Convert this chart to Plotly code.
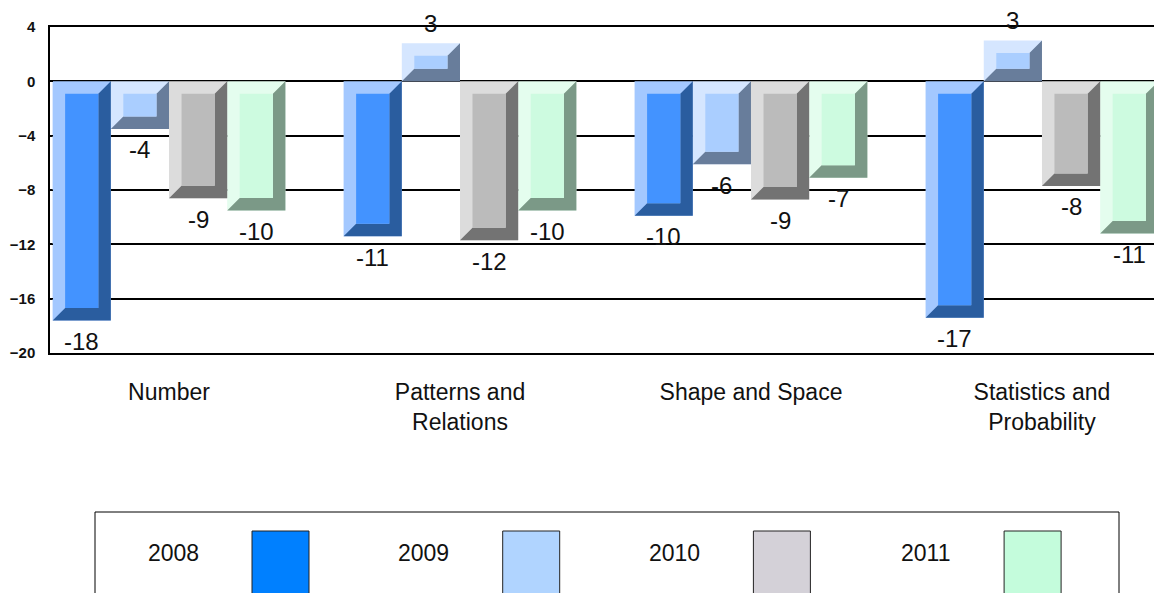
import math
import plotly.graph_objects as go

# ---------------- data ----------------
categories = ["Number", "Patterns and<br>Relations", "Shape and Space", "Statistics and<br>Probability"]
series_names = ["2008", "2009", "2010", "2011"]
values_2008 = [-17.6, -11.4, -9.9, -17.4]
values_2009 = [-3.5, 2.8, -6.1, 3.0]
values_2010 = [-8.6, -11.7, -8.7, -7.7]
values_2011 = [-9.5, -9.5, -7.1, -11.2]
y_ticks = [4, 0, -4, -8, -12, -16, -20]

series_values = [values_2008, values_2009, values_2010, values_2011]

# ---------------- styles ----------------
light = ["#A3C8FF", "#D5E6FF", "#DCDCDC", "#E4FDEE"]
face = ["#4393FF", "#AACEFF", "#BBBBBB", "#CDFBE0"]
dark = ["#2A5D9F", "#687D9B", "#737373", "#7B9987"]
legend_colors = ["#0080FF", "#B0D4FF", "#D4D1D8", "#C4FCDC"]

FONT = "Arial, Liberation Sans, sans-serif"
BAR_W = 0.2
DX = 0.043   # bevel width (x units)
DY = 0.92    # bevel height (y units)

W, H = 1154, 593
ML, MR, MT, MB = 50, 0, 27, 240
PLOT_W = W - ML - MR
PLOT_H = H - MT - MB


def label(v):
    return str(int(math.copysign(math.floor(abs(v) + 0.5), v)))


def px_x(px):  # pixel -> paper x
    return (px - ML) / PLOT_W


def px_y(py):  # pixel -> paper y
    return (H - MB - py) / PLOT_H


fig = go.Figure()
xs = list(range(len(categories)))

# base bars (light bevel colour)
for k, (name, vals) in enumerate(zip(series_names, series_values)):
    fig.add_trace(go.Bar(
        x=xs, y=vals, name=name, width=BAR_W, offset=-0.4 + BAR_W * k,
        marker=dict(color=light[k], line=dict(width=0)),
        hoverinfo="skip", showlegend=False,
    ))

# bevels and faces
for k, vals in enumerate(series_values):
    dxs, dys, fxs, fys = [], [], [], []
    for i, v in enumerate(vals):
        x0 = i - 0.4 + BAR_W * k
        x1 = x0 + BAR_W
        hi, lo = max(0, v), min(0, v)
        dxs += [x1, x1, x0, x0 + DX, x1 - DX, x1 - DX, x1, None]
        dys += [hi, lo, lo, lo + DY, lo + DY, hi - DY, hi, None]
        fxs += [x0 + DX, x1 - DX, x1 - DX, x0 + DX, x0 + DX, None]
        fys += [lo + DY, lo + DY, hi - DY, hi - DY, lo + DY, None]
    fig.add_trace(go.Scatter(x=dxs, y=dys, mode="lines", fill="toself",
                             fillcolor=dark[k], line=dict(width=0),
                             hoverinfo="skip", showlegend=False))
    fig.add_trace(go.Scatter(x=fxs, y=fys, mode="lines", fill="toself",
                             fillcolor=face[k], line=dict(width=0),
                             hoverinfo="skip", showlegend=False))

# value labels
for k, vals in enumerate(series_values):
    for i, v in enumerate(vals):
        fig.add_annotation(
            x=i - 0.4 + BAR_W * k + BAR_W / 2, y=v, text=label(v),
            showarrow=False, xanchor="center", yanchor="middle",
            yshift=20 if v > 0 else -21,
            font=dict(family=FONT, size=24, color="#111111"),
        )

# manual legend
shapes = [dict(type="rect", xref="paper", yref="paper",
               x0=px_x(95), x1=px_x(1119), y0=px_y(512), y1=px_y(620),
               line=dict(color="#000000", width=1), fillcolor="rgba(0,0,0,0)")]
for k, name in enumerate(series_names):
    bl = 252 + 250.7 * k
    shapes.append(dict(type="rect", xref="paper", yref="paper",
                       x0=px_x(bl), x1=px_x(bl + 57), y0=px_y(531), y1=px_y(597),
                       line=dict(color="#222222", width=1), fillcolor=legend_colors[k]))
    fig.add_annotation(xref="paper", yref="paper", x=px_x(bl - 79), y=px_y(553),
                       text=name, showarrow=False, xanchor="center", yanchor="middle",
                       font=dict(family=FONT, size=23, color="#111111"))

fig.update_layout(
    width=W, height=H,
    margin=dict(l=ML, r=MR, t=MT, b=MB),
    paper_bgcolor="white", plot_bgcolor="white",
    barmode="overlay",
    showlegend=False,
    hovermode=False,
    shapes=shapes,
    xaxis=dict(
        range=[-0.409, 3.385], tickmode="array", tickvals=xs, ticktext=categories,
        showgrid=False, zeroline=False, showline=True, mirror=True,
        linecolor="#000000", linewidth=1.5, ticks="", ticklabelstandoff=18,
        tickfont=dict(family=FONT, size=23, color="#111111"),
    ),
    yaxis=dict(
        range=[-20, 4], tickmode="array", tickvals=y_ticks,
        showgrid=True, gridcolor="#000000", gridwidth=1.5, zeroline=False,
        showline=True, linecolor="#000000", linewidth=1.5,
        ticks="inside", ticklen=3, tickcolor="#000000", ticklabelstandoff=10,
        tickfont=dict(family=FONT, size=15, color="#111111", weight="bold"),
    ),
)

fig.write_html(
    "out.html",
    config={"displayModeBar": False},
    post_script="document.body.style.margin='0px';document.body.style.overflow='hidden';",
)
